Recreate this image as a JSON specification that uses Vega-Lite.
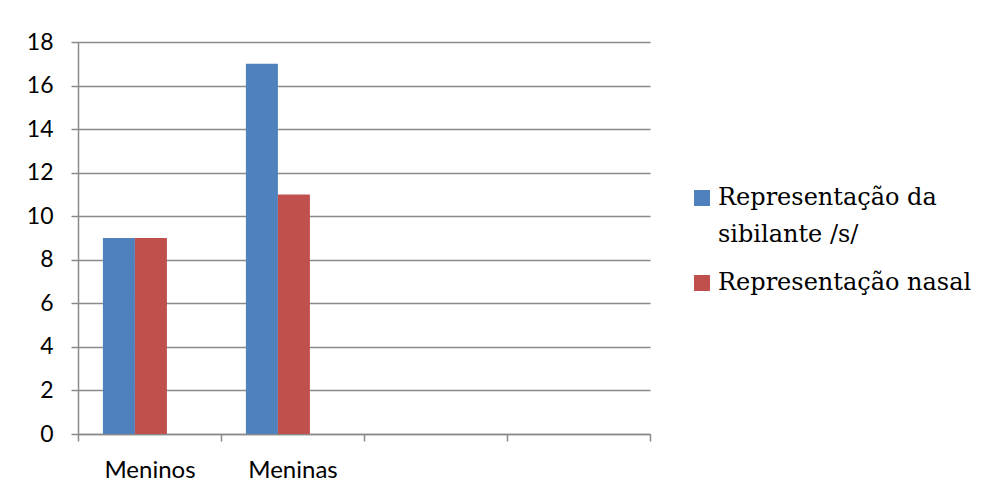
{
  "$schema": "https://vega.github.io/schema/vega-lite/v6.json",
  "width": 572,
  "height": 392,
  "autosize": {"type": "none"},
  "padding": {"left": 78, "top": 42, "right": 336, "bottom": 61},
  "background": "white",
  "config": {
    "view": {"stroke": null},
    "axis": {"labelFont": "Lato", "labelColor": "#000000", "domainColor": "#8a8a8a", "tickColor": "#8a8a8a", "gridColor": "#8a8a8a", "domainWidth": 1.5, "tickWidth": 1.5, "gridWidth": 1.5}
  },
  "data": {
    "values": [
      {"grupo": "Meninos", "serie": "Representação da sibilante /s/", "valor": 9},
      {"grupo": "Meninos", "serie": "Representação nasal", "valor": 9},
      {"grupo": "Meninas", "serie": "Representação da sibilante /s/", "valor": 17},
      {"grupo": "Meninas", "serie": "Representação nasal", "valor": 11}
    ]
  },
  "mark": {"type": "bar"},
  "encoding": {
    "x": {
      "field": "grupo",
      "type": "nominal",
      "scale": {"domain": ["Meninos", "Meninas", "c3", "c4"], "paddingInner": 0, "paddingOuter": 0},
      "axis": {
        "title": null,
        "labelAngle": 0,
        "labelFontSize": 24,
        "labelPadding": 17,
        "tickBand": "extent",
        "tickSize": 7,
        "labelExpr": "datum.value == 'Meninos' || datum.value == 'Meninas' ? datum.value : ''"
      }
    },
    "xOffset": {
      "field": "serie",
      "type": "nominal",
      "scale": {"domain": ["Representação da sibilante /s/", "Representação nasal", "vazio"], "paddingInner": 0, "paddingOuter": 0.734, "align": 0.53}
    },
    "y": {
      "field": "valor",
      "type": "quantitative",
      "scale": {"domain": [0, 18], "nice": false},
      "axis": {
        "title": null,
        "values": [0, 2, 4, 6, 8, 10, 12, 14, 16, 18],
        "labelFontSize": 23,
        "labelPadding": 18,
        "tickSize": 7,
        "grid": true
      }
    },
    "color": {
      "field": "serie",
      "type": "nominal",
      "scale": {"domain": ["Representação da sibilante /s/", "Representação nasal"], "range": ["#4F81BD", "#C0504D"]},
      "legend": {
        "title": null,
        "orient": "none",
        "legendX": 612,
        "legendY": 144,
        "padding": 0,
        "symbolType": "square",
        "symbolSize": 256,
        "symbolStrokeWidth": 0,
        "labelFont": "DejaVu Serif",
        "labelFontSize": 24,
        "labelColor": "#000000",
        "labelLimit": 400,
        "labelOffset": 4,
        "rowPadding": 24,
        "labelExpr": "datum.value == 'Representação da sibilante /s/' ? ['Representação da', 'sibilante /s/'] : datum.value",
        "encode": {"labels": {"update": {"lineHeight": {"value": 37}}}}
      }
    }
  }
}
